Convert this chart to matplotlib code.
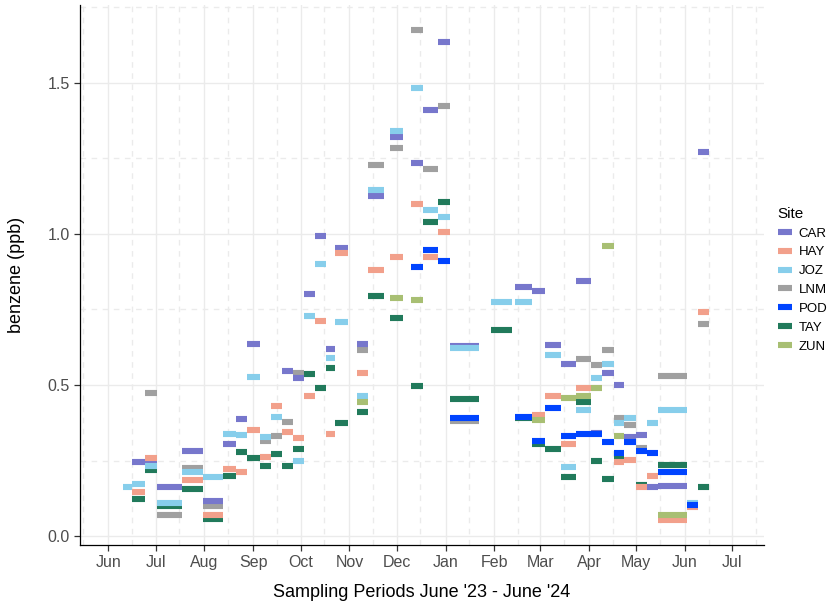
import numpy as np
import pandas as pd
import matplotlib
matplotlib.use("Agg")
import matplotlib.pyplot as plt
import matplotlib.dates as mdates
from matplotlib.lines import Line2D

N = np.nan

# sampling periods (start / end of each passive sampler deployment)
period_start = ["2023-06-10", "2023-06-16", "2023-06-24", "2023-07-02", "2023-07-18", "2023-07-31",
                "2023-08-13", "2023-08-21", "2023-08-28", "2023-09-05", "2023-09-12", "2023-09-19",
                "2023-09-26", "2023-10-03", "2023-10-10", "2023-10-17", "2023-10-23", "2023-11-06",
                "2023-11-13", "2023-11-27", "2023-12-10", "2023-12-18", "2023-12-27", "2024-01-04",
                "2024-01-30", "2024-02-14", "2024-02-25", "2024-03-04", "2024-03-14", "2024-03-24",
                "2024-04-02", "2024-04-09", "2024-04-17", "2024-04-23", "2024-05-01", "2024-05-08",
                "2024-05-15", "2024-06-02", "2024-06-09"]
period_end = ["2023-06-16", "2023-06-24", "2023-07-02", "2023-07-18", "2023-07-31", "2023-08-13",
              "2023-08-21", "2023-08-28", "2023-09-05", "2023-09-12", "2023-09-19", "2023-09-26",
              "2023-10-03", "2023-10-10", "2023-10-17", "2023-10-23", "2023-10-31", "2023-11-13",
              "2023-11-23", "2023-12-05", "2023-12-18", "2023-12-27", "2024-01-04", "2024-01-22",
              "2024-02-12", "2024-02-25", "2024-03-04", "2024-03-14", "2024-03-24", "2024-04-02",
              "2024-04-09", "2024-04-17", "2024-04-23", "2024-05-01", "2024-05-08", "2024-05-15",
              "2024-06-02", "2024-06-09", "2024-06-16"]

# benzene (ppb) per site, one value per period (nan = no sample)
car = [N, .246, .240, .161, .283, .117, .303, .387, .637, N, N, .546, .524, .801, .992, .619, .954, .634,
       1.127, 1.321, 1.234, 1.411, 1.636, .630, N, .823, .812, .631, .571, .845, .342, .540, .501, .328,
       .335, .161, .167, N, 1.270]
hay = [N, .147, .259, N, .186, .071, .222, .211, .350, .262, .431, .345, .324, .462, .713, .339, .936, .538,
       .882, .923, 1.099, .923, 1.005, N, N, N, .402, .462, .305, .491, N, N, .244, .253,
       .162, .199, .052, .095, .741]
joz = [.161, .172, .231, .108, .211, .196, .339, .336, .527, .329, .395, N, .247, .727, .900, .590, .707, .465,
       1.145, 1.339, 1.484, 1.079, 1.055, .622, .775, .773, N, .598, .227, .416, .523, .569, .373, .392,
       N, .373, .418, .110, N]
lnm = [N, N, .474, .069, .225, .099, N, N, N, .315, .332, .379, .538, N, N, N, N, .617,
       1.229, 1.283, 1.674, 1.216, 1.422, .380, N, N, N, N, N, .585, .565, .617, .391, .366,
       .290, N, .529, N, .701]
pod = [N, N, N, N, N, N, N, N, N, N, N, N, N, N, N, N, N, N,
       N, N, .890, .947, .909, .392, N, .395, .316, .423, .332, .337, .337, .311, .274, .312,
       .283, .274, .213, .103, N]
tay = [N, .123, .218, .100, .155, .055, .200, .277, .259, .233, .272, .233, .287, .536, .491, .556, .374, .411,
       .793, .723, .496, 1.040, 1.105, .454, .682, .390, .305, .287, .194, .442, .249, .190, .260, N,
       .170, N, .236, N, .163]
zun = [N, N, N, N, N, N, N, N, N, N, N, N, N, N, N, N, N, .442,
       N, .789, .781, N, N, N, N, N, .383, N, .456, .462, .489, .961, .332, N,
       N, N, .068, N, N]

sites = ["CAR", "HAY", "JOZ", "LNM", "POD", "TAY", "ZUN"]
site_values = {"CAR": car, "HAY": hay, "JOZ": joz, "LNM": lnm, "POD": pod, "TAY": tay, "ZUN": zun}
site_colors = {"CAR": "#7777CC", "HAY": "#F2A08B", "JOZ": "#87CEEB", "LNM": "#A0A0A0",
               "POD": "#0044FF", "TAY": "#217A5B", "ZUN": "#A8BF73"}
draw_order = ["LNM", "TAY", "CAR", "HAY", "JOZ", "POD", "ZUN"]

starts = mdates.date2num(pd.to_datetime(period_start))
ends = mdates.date2num(pd.to_datetime(period_end))

fig = plt.figure(figsize=(8.33, 6.04), dpi=100)
ax = fig.add_axes([0.096, 0.098, 0.821, 0.894])

for i, site in enumerate(draw_order):
    vals = np.array(site_values[site], dtype=float)
    ok = ~np.isnan(vals)
    ax.hlines(vals[ok], starts[ok], ends[ok], colors=site_colors[site], linewidth=4.4,
              capstyle="butt", zorder=3 + i)

ax.set_xlim(mdates.date2num(pd.Timestamp("2023-05-14")), mdates.date2num(pd.Timestamp("2024-07-21")))
ax.set_ylim(-0.029, 1.758)

ax.xaxis.set_major_locator(mdates.MonthLocator())
ax.xaxis.set_major_formatter(mdates.DateFormatter("%b"))
ax.xaxis.set_minor_locator(mdates.MonthLocator(bymonthday=16))
ax.set_yticks([0.0, 0.5, 1.0, 1.5])
ax.set_yticklabels(["0.0", "0.5", "1.0", "1.5"])
ax.set_yticks([0.25, 0.75, 1.25, 1.75], minor=True)

ax.grid(which="major", color="#EBEBEB", linewidth=1.0, zorder=0)
ax.grid(which="minor", color="#EBEBEB", linewidth=1.0, linestyle=(0, (4, 4)), zorder=0)
ax.set_axisbelow(True)

for s in ["top", "right"]:
    ax.spines[s].set_visible(False)
for s in ["left", "bottom"]:
    ax.spines[s].set_color("black")
    ax.spines[s].set_linewidth(0.9)

ax.tick_params(which="major", length=4, width=0.9, color="#333333", labelcolor="#4D4D4D",
               labelsize=11.5)
ax.tick_params(which="minor", length=0)
for lab in ax.get_xticklabels() + ax.get_yticklabels():
    lab.set_fontfamily("Liberation Sans")

ax.set_xlabel("Sampling Periods June '23 - June '24", fontsize=13, family="Liberation Sans", labelpad=10)
ax.set_ylabel("benzene (ppb)", fontsize=13, family="Liberation Sans", labelpad=16)

handles = [Line2D([0], [0], color=site_colors[s], linewidth=4.4, solid_capstyle="butt") for s in sites]
leg = fig.legend(handles, sites, loc="center left", bbox_to_anchor=(0.924, 0.537), frameon=False,
                 title="Site", handlelength=1.1, labelspacing=0.5, handletextpad=0.5,
                 borderaxespad=0.2, prop={"family": "Liberation Sans", "size": 9.5})
leg.get_title().set_fontfamily("Liberation Sans")
leg.get_title().set_fontsize(11)
leg._legend_box.align = "left"

fig.savefig("out.png", dpi=100)
